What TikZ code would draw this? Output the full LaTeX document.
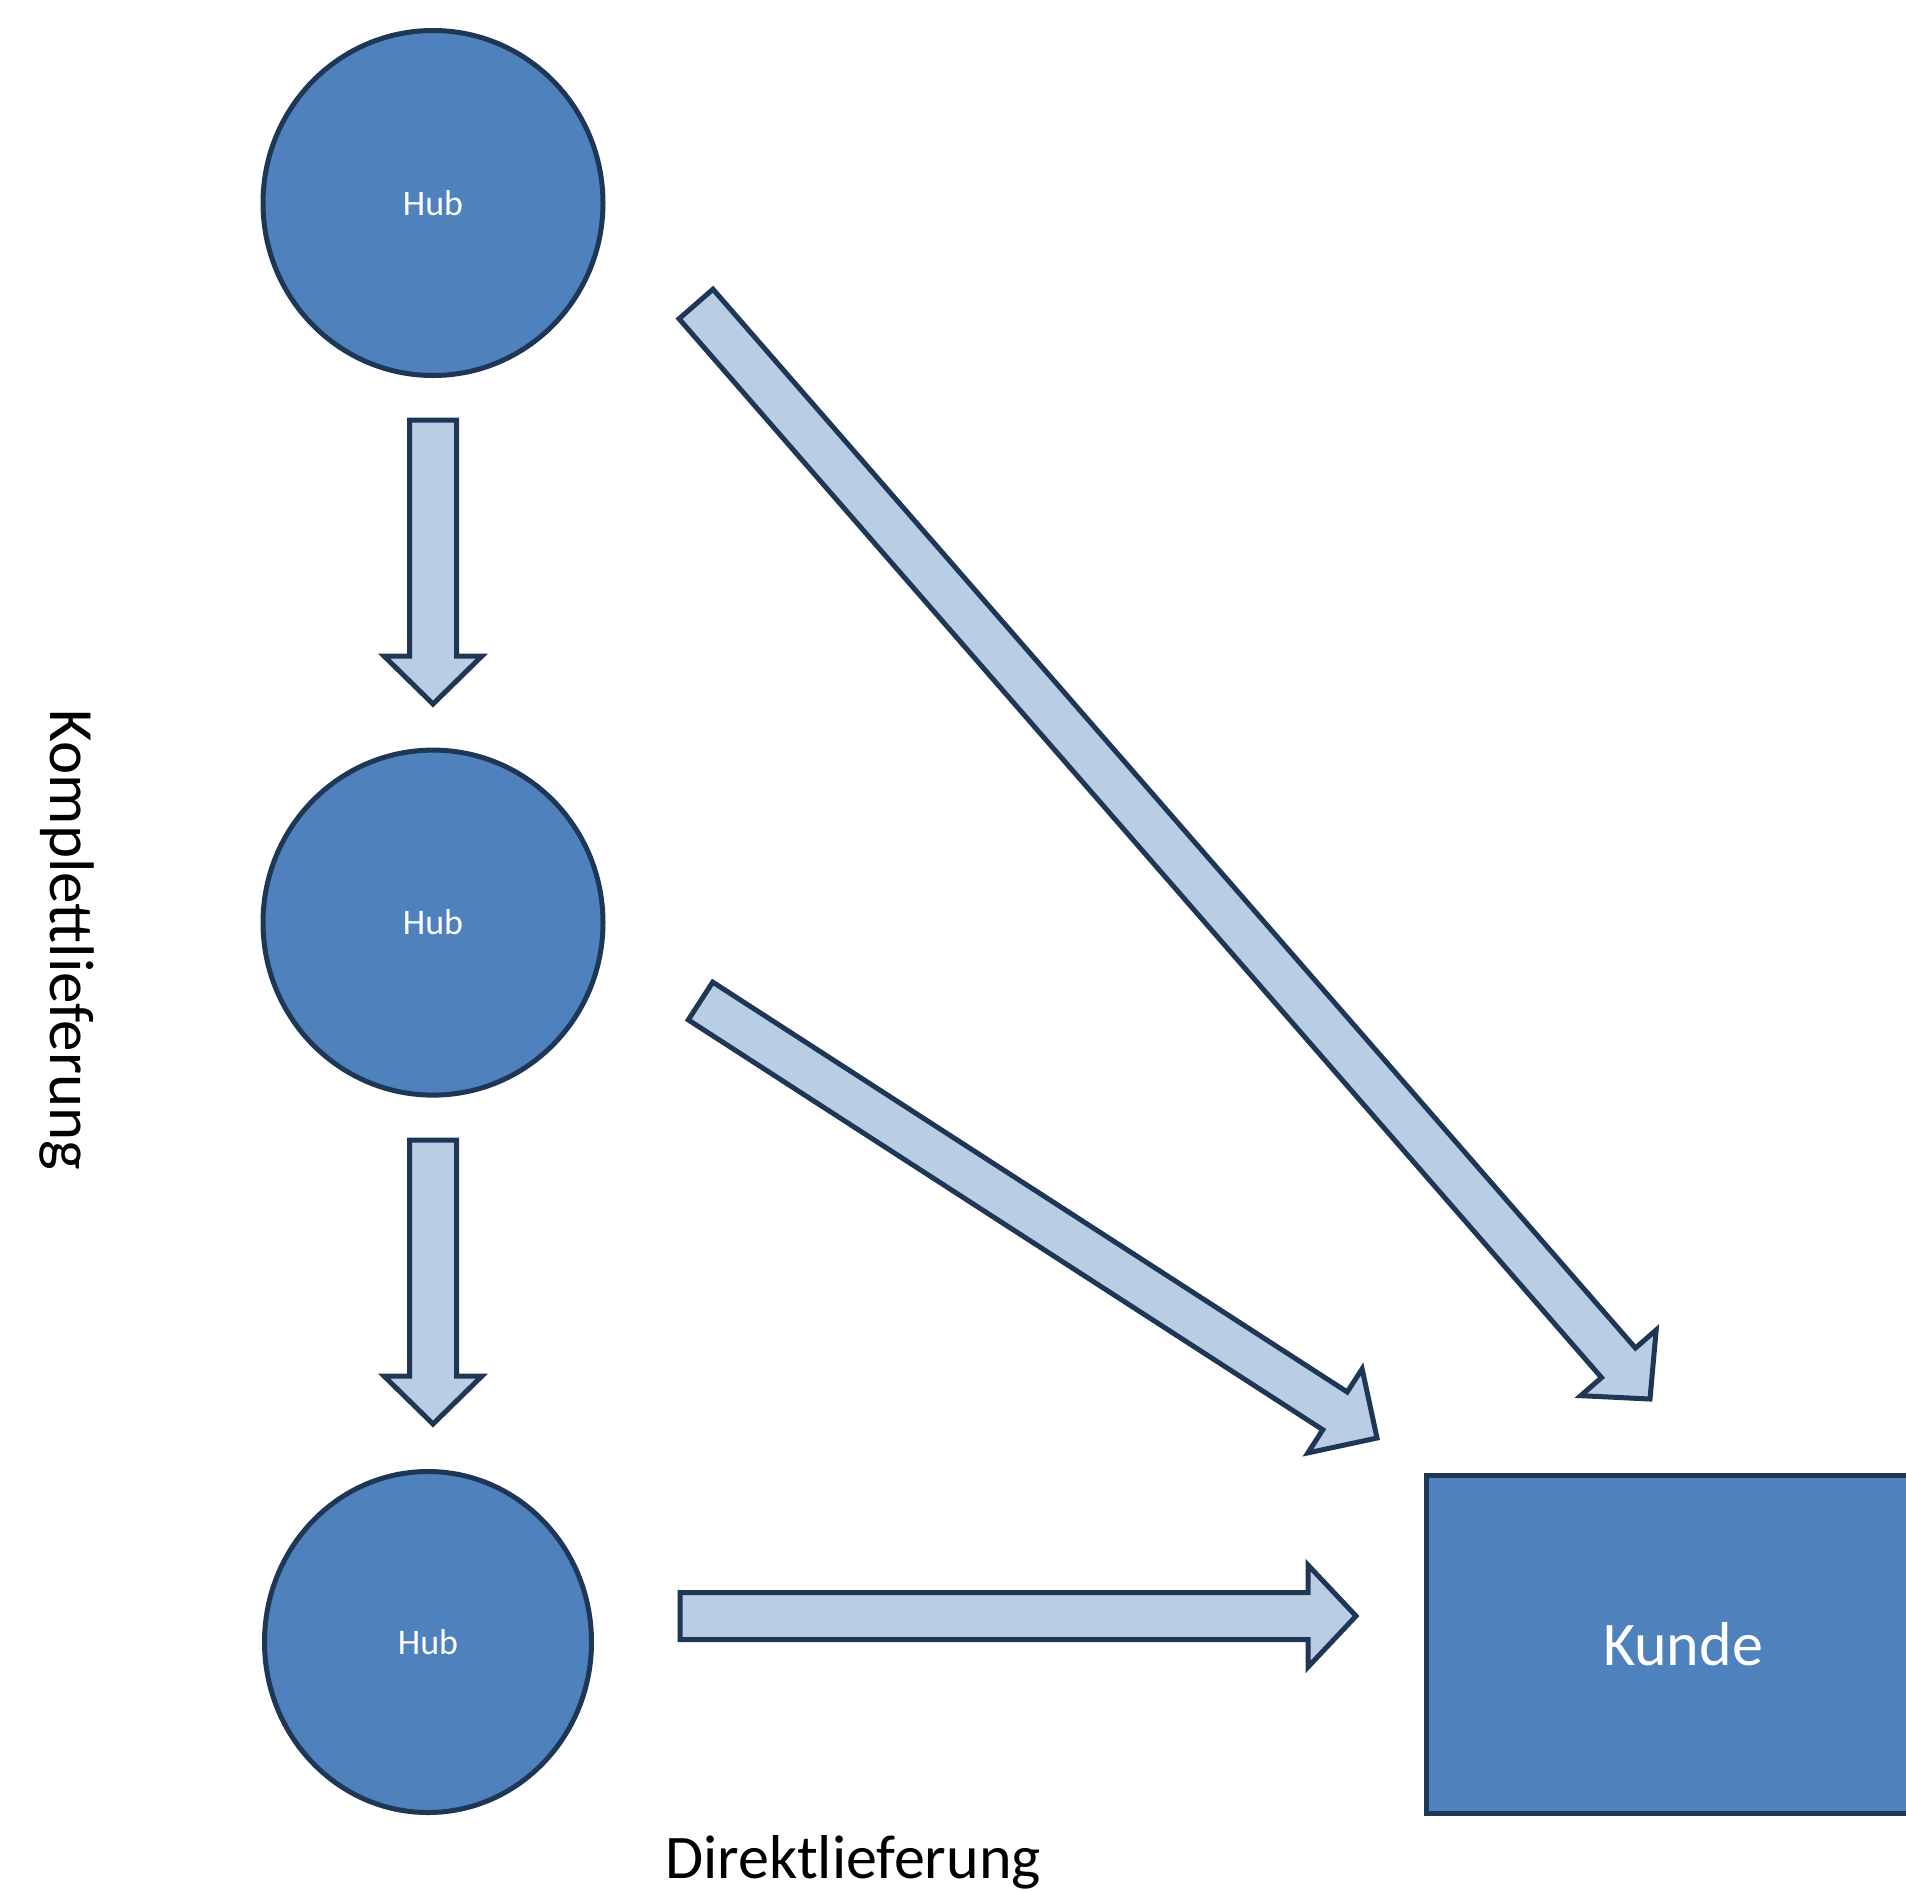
\documentclass[tikz,border=0pt]{standalone}
\usepackage{fontspec}
\setmainfont{Carlito}
\usetikzlibrary{calc,shapes.geometric}
\definecolor{hubblue}{HTML}{4F81BD}
\definecolor{edgecol}{HTML}{1F3756}
\definecolor{arrowfill}{HTML}{B9CDE5}
% #1 start (tail centre), #2 tip, #3 half shaft width, #4 half head width, #5 head length
\newcommand\blkarrow[5]{%
  \coordinate (hb) at ($(#2)!#5!(#1)$);
  \draw[blk] ($(#1)!#3!90:(#2)$) -- ($(hb)!#3!90:(#2)$) -- ($(hb)!#4!90:(#2)$) -- (#2)
    -- ($(hb)!#4!-90:(#2)$) -- ($(hb)!#3!-90:(#2)$) -- ($(#1)!#3!-90:(#2)$) -- cycle;}
\begin{document}
\begin{tikzpicture}[x=1pt,y=-1pt,
  hub/.style={ellipse, draw=edgecol, fill=hubblue, line width=5pt, text=white,
    font=\fontsize{36}{43}\selectfont, inner sep=0pt},
  kundebox/.style={rectangle, draw=edgecol, fill=hubblue, line width=5pt, text=white,
    font=\fontsize{62}{74}\selectfont, inner sep=0pt},
  blk/.style={draw=edgecol, fill=arrowfill, line width=5pt, line join=miter},
  lbl/.style={font=\fontsize{62}{74}\selectfont, text=black, inner sep=0pt}]
\useasboundingbox (0,0) rectangle (1906,1891);
\clip (0,0) rectangle (1906,1891);
\fill[white] (0,0) rectangle (1906,1891);

\node[hub, minimum width=340pt, minimum height=345pt] (hub1) at (433,203) {Hub};
\node[hub, minimum width=340pt, minimum height=345pt] (hub2) at (433,922.6) {Hub};
\node[hub, minimum width=327pt, minimum height=341pt] (hub3) at (428,1642) {Hub};
\node[kundebox, minimum width=514pt, minimum height=338pt] (kunde) at (1683,1644) {Kunde};

\node[lbl, rotate=-90, anchor=base, font=\fontsize{63}{75}\selectfont] (komp) at (50,940) {Komplettlieferung};
\node[lbl, anchor=base] (direkt) at (853,1878) {Direktlieferung};

\coordinate (v1s) at (433,420);
\coordinate (v1t) at (433,704);
\coordinate (v2s) at (433,1140);
\coordinate (v2t) at (433,1424);
\coordinate (hs) at (680,1616);
\coordinate (ht) at (1356,1616);
\coordinate (d1s) at (696,304);
\coordinate (d1t) at (1650,1399);
\coordinate (d2s) at (700.5,1001);
\coordinate (d2t) at (1377,1438);

\blkarrow{v1s}{v1t}{23.5pt}{49pt}{48pt}
\blkarrow{v2s}{v2t}{23.5pt}{49pt}{48pt}
\blkarrow{hs}{ht}{23.5pt}{51pt}{48pt}
\blkarrow{d1s}{d1t}{22.5pt}{50pt}{48pt}
\blkarrow{d2s}{d2t}{22.5pt}{50pt}{50pt}
\end{tikzpicture}
\end{document}
